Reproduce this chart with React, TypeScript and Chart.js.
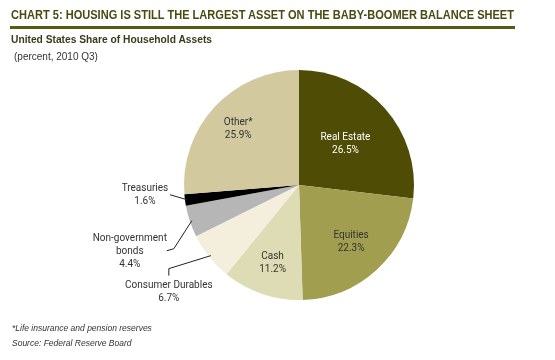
import React, { useEffect, useLayoutEffect, useRef } from "react";
import { Chart, registerables } from "chart.js";

Chart.register(...registerables);

const categories = ["Real Estate", "Equities", "Cash", "Consumer Durables", "Non-government bonds", "Treasuries", "Other*"];
const labelLines = [["Real Estate"], ["Equities"], ["Cash"], ["Consumer Durables"], ["Non-government", "bonds"], ["Treasuries"], ["Other*"]];
const shares = [26.5, 22.3, 11.2, 6.7, 4.4, 1.6, 25.9];
const colors = ["#4f4c06", "#a29e50", "#dedcb4", "#f3efdc", "#b6b6b6", "#000000", "#d3c99e"];

// label placement styles
const insideRadius: Record<number, number> = { 0: 0.54, 1: 0.67, 2: 0.72, 6: 0.72 };
const insideColor: Record<number, string> = { 0: "#ffffff" };
const outside: Record<number, { leader: [number, number][]; text: [number, number] }> = {
  5: { leader: [[-17, -5]], text: [-42, -11] },
  4: { leader: [[-18, 28], [-25, 30]], text: [-62, 18] },
  3: { leader: [[-42, 13], [-42, 20]], text: [-42, 30] },
};

function FitText({ width, style, children }: { width: number; style: React.CSSProperties; children: React.ReactNode }) {
  const ref = useRef<HTMLSpanElement>(null);
  useLayoutEffect(() => {
    const el = ref.current;
    if (!el) return;
    el.style.transform = "none";
    const w = el.getBoundingClientRect().width;
    if (w > 0) el.style.transform = `scaleX(${width / w})`;
  }, [width]);
  return (
    <span ref={ref} style={{ ...style, display: "inline-block", whiteSpace: "nowrap", transformOrigin: "left top" }}>
      {children}
    </span>
  );
}

const labelPlugin = {
  id: "pieLabels",
  afterDatasetsDraw(chart: any) {
    const meta = chart.getDatasetMeta(0);
    const ctx = chart.ctx as CanvasRenderingContext2D;
    ctx.save();
    ctx.font = "10px Roboto, 'Liberation Sans', sans-serif";
    ctx.textAlign = "center";
    ctx.textBaseline = "middle";
    const lh = 13;
    meta.data.forEach((arc: any, i: number) => {
      const { x, y, startAngle, endAngle, outerRadius } = arc.getProps(["x", "y", "startAngle", "endAngle", "outerRadius"], true);
      const mid = (startAngle + endAngle) / 2;
      const lines = [...labelLines[i], shares[i].toFixed(1) + "%"];
      if (insideRadius[i] !== undefined) {
        const r = outerRadius * insideRadius[i];
        const cx = x + Math.cos(mid) * r;
        const cy = y + Math.sin(mid) * r;
        ctx.fillStyle = insideColor[i] || "#333333";
        lines.forEach((t, k) => ctx.fillText(t, cx, cy + (k - (lines.length - 1) / 2) * lh));
      } else if (outside[i]) {
        const ex = x + Math.cos(mid) * (outerRadius - 2);
        const ey = y + Math.sin(mid) * (outerRadius - 2);
        const o = outside[i];
        ctx.strokeStyle = "#222222";
        ctx.lineWidth = 1;
        ctx.beginPath();
        ctx.moveTo(ex, ey);
        o.leader.forEach(([dx, dy]) => ctx.lineTo(ex + dx, ey + dy));
        ctx.stroke();
        const tx = ex + o.text[0];
        const ty = ey + o.text[1];
        ctx.fillStyle = "#333333";
        lines.forEach((t, k) => ctx.fillText(t, tx, ty + k * lh));
      }
    });
    ctx.restore();
  },
};

export default function App() {
  const canvasRef = useRef<HTMLCanvasElement>(null);
  useEffect(() => {
    document.body.style.margin = "0";
    const chart = new Chart(canvasRef.current!, {
      type: "pie",
      data: {
        labels: categories,
        datasets: [{ data: shares, backgroundColor: colors, borderWidth: 0 }],
      },
      options: {
        animation: false,
        responsive: false,
        maintainAspectRatio: false,
        layout: { padding: { top: 70, bottom: 60, left: 184, right: 141 } },
        plugins: { legend: { display: false }, tooltip: { enabled: false } },
      },
      plugins: [labelPlugin],
    });
    return () => chart.destroy();
  }, []);

  const base: React.CSSProperties = { position: "absolute", fontFamily: "'Liberation Sans', Arial, sans-serif" };
  return (
    <div style={{ position: "absolute", left: 0, top: 0, width: 555, height: 360, background: "#ffffff", overflow: "hidden" }}>
      <canvas ref={canvasRef} width={555} height={360} style={{ position: "absolute", left: 0, top: 0 }} />
      <div style={{ ...base, left: 11, top: 5 }}>
        <FitText width={503} style={{ fontSize: 13.5, fontWeight: 700, color: "#4a4a12" }}>
          CHART 5: HOUSING IS STILL THE LARGEST ASSET ON THE BABY-BOOMER BALANCE SHEET
        </FitText>
      </div>
      <div style={{ ...base, left: 10, top: 26, width: 505, height: 3, background: "#5b5a12" }} />
      <div style={{ ...base, left: 11, top: 29 }}>
        <FitText width={201} style={{ fontSize: 11.5, fontWeight: 700, color: "#3b3b1c" }}>
          United States Share of Household Assets
        </FitText>
      </div>
      <div style={{ ...base, left: 14, top: 51, fontSize: 10, color: "#333333" }}>(percent, 2010 Q3)</div>
      <div style={{ ...base, left: 12, top: 321, fontSize: 8.5, fontStyle: "italic", color: "#333333", lineHeight: "15px" }}>
        <div>*Life insurance and pension reserves</div>
        <div>Source: Federal Reserve Board</div>
      </div>
    </div>
  );
}
